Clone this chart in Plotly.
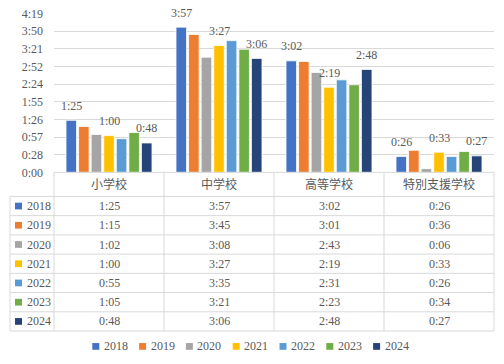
import plotly.graph_objects as go

# ---------------- data (minutes) ----------------
categories = ["小学校", "中学校", "高等学校", "特別支援学校"]
years = ["2018", "2019", "2020", "2021", "2022", "2023", "2024"]
y2018 = [85, 237, 182, 26]
y2019 = [75, 225, 181, 36]
y2020 = [62, 188, 163, 6]
y2021 = [60, 207, 139, 33]
y2022 = [55, 215, 151, 26]
y2023 = [65, 201, 143, 34]
y2024 = [48, 186, 168, 27]
tick_values = [0, 28.8, 57.6, 86.4, 115.2, 144.0, 172.8, 201.6, 230.4, 259.2]
labeled_years = ["2018", "2021", "2024"]

series = [y2018, y2019, y2020, y2021, y2022, y2023, y2024]
colors = ["#4472C4", "#ED7D31", "#A5A5A5", "#FFC000", "#5B9BD5", "#70AD47", "#264478"]

W, H = 504, 364
FONT = "Liberation Serif, Noto Sans CJK JP, serif"
TXT = "#595959"
GRID = "#d9d9d9"


def fmt(m):
    t = int(m)
    return f"{t // 60}:{t % 60:02d}"


def px(x):
    return x / W


def py(y):
    return 1 - y / H


fig = go.Figure()
for yr, vals, c in zip(years, series, colors):
    fig.add_trace(go.Bar(
        x=categories, y=vals, name=yr,
        marker=dict(color=c, line=dict(color="white", width=0.8)),
        showlegend=False, hoverinfo="skip",
    ))

plot_l, plot_r, plot_t, plot_b = 54, 494, 6.7, 172

annotations = []
shapes = []

# data labels on selected series
n = len(years)
group_w = (plot_r - plot_l) / len(categories) * 0.8
slot = group_w / n
for i, (yr, vals) in enumerate(zip(years, series)):
    if yr not in labeled_years:
        continue
    for cat, v in zip(categories, vals):
        annotations.append(dict(
            x=cat, y=v, xref="x", yref="y", text=fmt(v), showarrow=False,
            xshift=(i - (n - 1) / 2) * slot, yshift=14.5, yanchor="middle", xanchor="center",
            font=dict(family=FONT, size=12, color=TXT),
        ))

# ---------------- data table ----------------
col_edges = [54, 164, 274, 384, 494]
lab_l = 10
head_t, head_b = 172, 197
row_h = 20
rows_b = head_b + row_h * n
line = dict(color=GRID, width=1)

# horizontal lines
shapes.append(dict(type="line", xref="paper", yref="paper", x0=px(col_edges[0]), x1=px(col_edges[-1]),
                   y0=py(head_t), y1=py(head_t), line=line))
for r in range(n + 1):
    yy = head_b + r * row_h
    shapes.append(dict(type="line", xref="paper", yref="paper", x0=px(lab_l), x1=px(col_edges[-1]),
                       y0=py(yy), y1=py(yy), line=line))
# vertical lines
for xe in col_edges:
    shapes.append(dict(type="line", xref="paper", yref="paper", x0=px(xe), x1=px(xe),
                       y0=py(head_t), y1=py(rows_b), line=line))
shapes.append(dict(type="line", xref="paper", yref="paper", x0=px(lab_l), x1=px(lab_l),
                   y0=py(head_b), y1=py(rows_b), line=line))

# header texts
for j, cat in enumerate(categories):
    annotations.append(dict(
        x=px((col_edges[j] + col_edges[j + 1]) / 2), y=py((head_t + head_b) / 2),
        xref="paper", yref="paper", text=cat, showarrow=False,
        xanchor="center", yanchor="middle",
        font=dict(family=FONT, size=12, color=TXT),
    ))
# rows
for i, (yr, vals, c) in enumerate(zip(years, series, colors)):
    yc = head_b + i * row_h + row_h / 2
    shapes.append(dict(type="rect", xref="paper", yref="paper",
                       x0=px(15), x1=px(22), y0=py(yc + 3.5), y1=py(yc - 3.5),
                       fillcolor=c, line=dict(width=0)))
    annotations.append(dict(
        x=px(24.5), y=py(yc), xref="paper", yref="paper", text=yr, showarrow=False,
        xanchor="left", yanchor="middle", font=dict(family=FONT, size=12, color=TXT),
    ))
    for j, v in enumerate(vals):
        annotations.append(dict(
            x=px((col_edges[j] + col_edges[j + 1]) / 2), y=py(yc),
            xref="paper", yref="paper", text=fmt(v), showarrow=False,
            xanchor="center", yanchor="middle",
            font=dict(family=FONT, size=12, color=TXT),
        ))

# ---------------- legend (manual) ----------------
leg_x0, leg_step, leg_y = 92.3, 46.8, 353
for i, (yr, c) in enumerate(zip(years, colors)):
    x0 = leg_x0 + i * leg_step
    shapes.append(dict(type="rect", xref="paper", yref="paper",
                       x0=px(x0), x1=px(x0 + 7), y0=py(leg_y + 3.5), y1=py(leg_y - 3.5),
                       fillcolor=c, line=dict(width=0)))
    annotations.append(dict(
        x=px(x0 + 9.5), y=py(leg_y), xref="paper", yref="paper", text=yr, showarrow=False,
        xanchor="left", yanchor="middle", font=dict(family=FONT, size=12, color=TXT),
    ))

fig.update_layout(
    width=W, height=H,
    margin=dict(l=0, r=0, t=0, b=0),
    paper_bgcolor="white", plot_bgcolor="white",
    barmode="group", bargap=0.2, bargroupgap=0.16,
    font=dict(family=FONT, size=12, color=TXT),
    hovermode=False,
    xaxis=dict(domain=[px(plot_l), px(plot_r)], showticklabels=False, showgrid=False,
               zeroline=False, showline=False, ticks=""),
    yaxis=dict(domain=[py(plot_b), py(plot_t)], range=[0, tick_values[-1] * 1.0005],
               tickvals=tick_values, ticktext=[fmt(t) for t in tick_values],
               showgrid=True, gridcolor=GRID, gridwidth=1, zeroline=False, showline=False,
               ticks="", ticklabelstandoff=10, ticklabeloverflow="allow",
               tickfont=dict(family=FONT, size=12, color=TXT)),
    shapes=shapes, annotations=annotations,
    showlegend=False,
)

fig.write_html("out.html", config={"displayModeBar": False},
               post_script="document.body.style.margin='0';document.body.style.overflow='hidden';")
